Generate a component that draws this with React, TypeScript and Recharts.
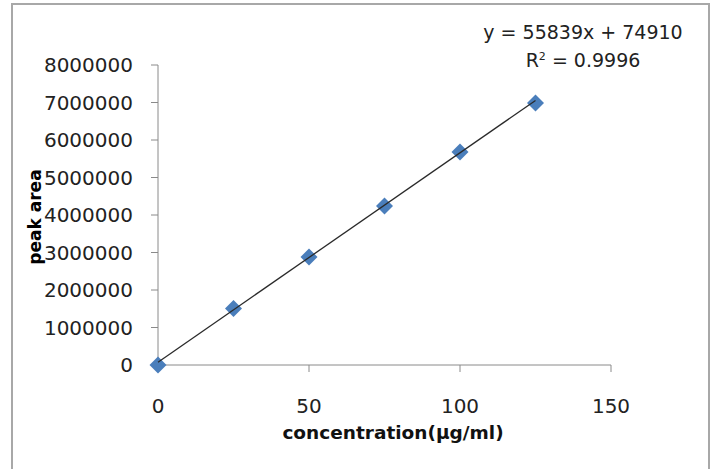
import { ScatterChart, Scatter, XAxis, YAxis } from 'recharts'

const concentration = [0, 25, 50, 75, 100, 125]
const peakArea = [0, 1510000, 2880000, 4240000, 5680000, 6990000]
const xTicks = [0, 50, 100, 150]
const yTicks = [0, 1000000, 2000000, 3000000, 4000000, 5000000, 6000000, 7000000, 8000000]
// linear trendline end points, y = 55839x + 74910
const trendX = [0, 125]
const trendY = [74910, 7054785]
const equation = 'y = 55839x + 74910'
const rSquared = '0.9996'

const points = concentration.map((x, i) => ({ x, y: peakArea[i] }))
const trend = trendX.map((x, i) => ({ x, y: trendY[i] }))

const font = '"DejaVu Sans", sans-serif'
const axisColor = '#8a8a8a'
const textColor = '#222'

// excel style square diamond marker
const Diamond = (props: any) => {
  const { cx, cy } = props
  const r = 8.5
  return <polygon points={`${cx},${cy - r} ${cx + r},${cy} ${cx},${cy + r} ${cx - r},${cy}`} fill="#4a7ebb" />
}

export default function App() {
  return (
    <div style={{ position: 'absolute', left: 0, top: 0, width: 715, height: 469, background: '#fff', overflow: 'hidden', fontFamily: font }}>
      <div style={{ position: 'absolute', left: 11, top: 3, width: 695, height: 480, border: '2px solid #a8a8a8' }} />
      <ScatterChart width={715} height={469} margin={{ top: 65, right: 104, bottom: 74, left: 58 }} style={{ position: 'absolute', left: 0, top: 0 }}>
        <XAxis type="number" dataKey="x" domain={[0, 150]} ticks={xTicks} interval={0} height={30}
          tickSize={7} tickMargin={27} stroke={axisColor}
          tick={{ fill: textColor, fontSize: 20, fontFamily: font }} />
        <YAxis type="number" dataKey="y" domain={[0, 8000000]} ticks={yTicks} interval={0} width={100}
          tickSize={7} tickMargin={18} stroke={axisColor}
          tick={{ fill: textColor, fontSize: 20, fontFamily: font }} />
        <Scatter data={points} shape={Diamond} isAnimationActive={false} />
        <Scatter data={trend} line={{ stroke: '#2a2a2a', strokeWidth: 1.3 }} shape={() => <g />} isAnimationActive={false} />
      </ScatterChart>
      <div style={{ position: 'absolute', left: 35, top: 217, transform: 'translate(-50%, -50%) rotate(-90deg)', fontSize: 17, fontWeight: 'bold', color: '#000', whiteSpace: 'nowrap' }}>
        peak area
      </div>
      <div style={{ position: 'absolute', left: 393, top: 432, transform: 'translate(-50%, -50%)', fontSize: 18.5, fontWeight: 'bold', color: '#111', whiteSpace: 'nowrap' }}>
        concentration(μg/ml)
      </div>
      <div style={{ position: 'absolute', left: 583, top: 32, transform: 'translate(-50%, -50%)', fontSize: 19, color: textColor, whiteSpace: 'nowrap' }}>
        {equation}
      </div>
      <div style={{ position: 'absolute', left: 583, top: 60, transform: 'translate(-50%, -50%)', fontSize: 19, color: textColor, whiteSpace: 'nowrap' }}>
        R<sup style={{ fontSize: 11 }}>2</sup> = {rSquared}
      </div>
    </div>
  )
}
